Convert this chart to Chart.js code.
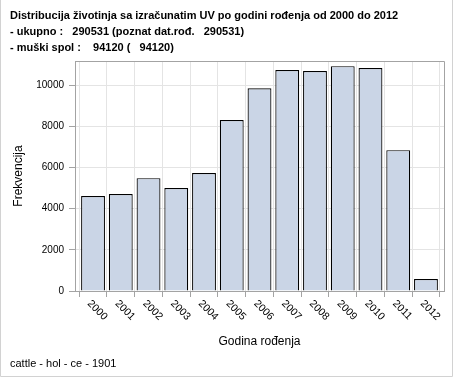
<!DOCTYPE html>
<html>
<head>
<meta charset="utf-8">
<script src="https://cdn.jsdelivr.net/npm/chart.js@4/dist/chart.umd.min.js"></script>
<style>
  html, body { margin: 0; padding: 0; background: #ffffff; }
  #wrap { width: 454px; height: 378px; position: relative; }
</style>
</head>
<body>
<div id="wrap"><canvas id="c" width="454" height="378"></canvas></div>
<script>
// ---- data ----
const years = [2000, 2001, 2002, 2003, 2004, 2005, 2006, 2007, 2008, 2009, 2010, 2011, 2012];
const frequencies = [4610, 4710, 5480, 5000, 5730, 8300, 9850, 10730, 10680, 10920, 10830, 6840, 580];
const yTickValues = [0, 2000, 4000, 6000, 8000, 10000];
const titleLines = [
  'Distribucija životinja sa izračunatim UV po godini rođenja od 2000 do 2012',
  '- ukupno :   290531 (poznat dat.rođ.   290531)',
  '- muški spol :    94120 (   94120)'
];
const footerText = 'cattle - hol - ce - 1901';
const xTitle = 'Godina rođenja';
const yTitle = 'Frekvencija';

const FONT = "'Liberation Sans', Arial, sans-serif";
const AXIS_COLOR = '#a3a3a3';
const GRID_COLOR = '#e4e4e4';

const decorPlugin = {
  id: 'decor',
  beforeDraw(chart) {
    const ctx = chart.ctx;
    ctx.save();
    ctx.fillStyle = '#ffffff';
    ctx.fillRect(0, 0, chart.width, chart.height);
    ctx.restore();
  },
  afterDraw(chart) {
    const ctx = chart.ctx;
    const a = chart.chartArea;
    ctx.save();
    // plot frame (top & right)
    ctx.strokeStyle = AXIS_COLOR;
    ctx.lineWidth = 1;
    ctx.beginPath();
    ctx.moveTo(Math.round(a.left) + 0.5, Math.round(a.top) + 0.5);
    ctx.lineTo(Math.round(a.right) + 0.5, Math.round(a.top) + 0.5);
    ctx.lineTo(Math.round(a.right) + 0.5, Math.round(a.bottom) + 0.5);
    ctx.stroke();
    // outer border
    ctx.strokeStyle = '#d2d2d2';
    ctx.beginPath();
    ctx.moveTo(0.5, 0);
    ctx.lineTo(0.5, chart.height - 1.5);
    ctx.lineTo(chart.width - 1.5, chart.height - 1.5);
    ctx.lineTo(chart.width - 1.5, 0);
    ctx.stroke();
    // x tick labels rotated clockwise, starting at the tick
    const xs = chart.scales.x;
    ctx.fillStyle = '#000000';
    ctx.font = '10.5px ' + FONT;
    ctx.textAlign = 'left';
    ctx.textBaseline = 'middle';
    xs.ticks.forEach(t => {
      const px = xs.getPixelForValue(t.value);
      ctx.save();
      ctx.translate(px - 4, a.bottom + 11);
      ctx.rotate(Math.PI / 4);
      ctx.fillText(String(t.value), 0, 0);
      ctx.restore();
    });
    ctx.restore();
  }
};

new Chart(document.getElementById('c'), {
  type: 'bar',
  data: {
    datasets: [{
      data: years.map((y, i) => ({ x: y, y: frequencies[i] })),
      backgroundColor: '#cad5e6',
      borderColor: '#000000',
      borderWidth: 1.2,
      barPercentage: 0.86,
      categoryPercentage: 1
    }]
  },
  options: {
    responsive: false,
    animation: false,
    devicePixelRatio: 1,
    layout: { padding: { left: 10, right: 10, top: 0, bottom: 0 } },
    plugins: {
      legend: { display: false },
      tooltip: { enabled: false },
      title: {
        display: true,
        text: titleLines,
        align: 'start',
        color: '#000000',
        font: { family: FONT, size: 11, weight: 'bold', lineHeight: '16px' },
        padding: { top: 8, bottom: 5 }
      },
      subtitle: {
        display: true,
        text: footerText,
        position: 'bottom',
        align: 'start',
        color: '#000000',
        font: { family: FONT, size: 11, lineHeight: '13px' },
        padding: { top: 2, bottom: 8 }
      }
    },
    scales: {
      x: {
        type: 'linear',
        min: years[0] - 0.65,
        max: years[years.length - 1] + 0.65,
        offset: false,
        afterFit(scale) { scale.height = 64; },
        ticks: {
          stepSize: 1,
          includeBounds: false,
          autoSkip: false,
          maxRotation: 0,
          minRotation: 0,
          color: 'rgba(0,0,0,0)',
          font: { family: FONT, size: 10 },
          callback: v => String(v)
        },
        grid: { color: GRID_COLOR, tickColor: AXIS_COLOR, tickLength: 6, drawTicks: true },
        border: { color: AXIS_COLOR, width: 1 },
        title: {
          display: true,
          text: xTitle,
          color: '#000000',
          font: { family: FONT, size: 12 },
          padding: { top: 0, bottom: 6 }
        }
      },
      y: {
        min: 0,
        max: 11170,
        afterFit(scale) { scale.width = 65; },
        afterBuildTicks(scale) { scale.ticks = yTickValues.map(v => ({ value: v })); },
        ticks: {
          stepSize: 2000,
          includeBounds: false,
          padding: 5,
          color: '#000000',
          font: { family: FONT, size: 10 },
          callback: v => String(v)
        },
        grid: { color: GRID_COLOR, tickColor: AXIS_COLOR, tickLength: 6 },
        border: { color: AXIS_COLOR, width: 1 },
        title: {
          display: true,
          text: yTitle,
          color: '#000000',
          font: { family: FONT, size: 12 },
          padding: { top: 1, bottom: 0 }
        }
      }
    }
  },
  plugins: [decorPlugin]
});
</script>
</body>
</html>
